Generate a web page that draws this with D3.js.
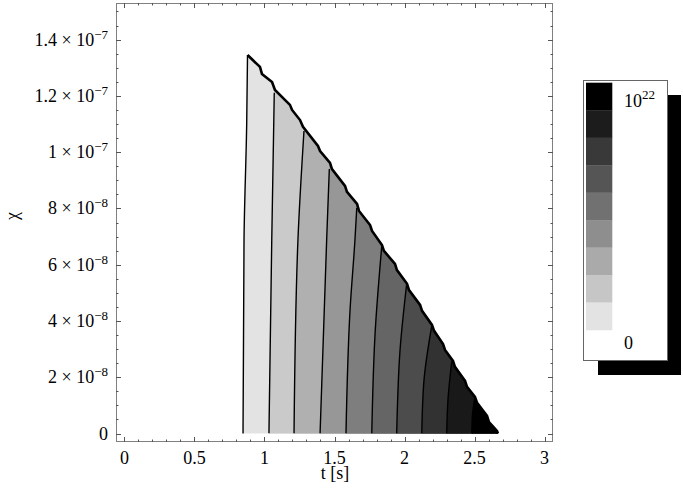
<!DOCTYPE html>
<html><head><meta charset="utf-8">
<script src="https://cdn.jsdelivr.net/npm/d3@7"></script>
<style>body{margin:0;background:#fff}</style>
</head><body><svg id="c" width="683" height="491" font-family="'Liberation Serif', 'DejaVu Serif', 'Times New Roman', serif"></svg>
<script>
// ---------- data ----------
const tTicks = [0, 0.5, 1, 1.5, 2, 2.5, 3];
const tTickLabels = ["0", "0.5", "1", "1.5", "2", "2.5", "3"];
const chiTicks = [0, 2, 4, 6, 8, 10, 12, 14];            // units of 1e-8
const chiMantissa = ["0", "2", "4", "6", "8", "1", "1.2", "1.4"];
const chiExponent = ["", "\u22128", "\u22128", "\u22128", "\u22128", "\u22127", "\u22127", "\u22127"];
const bandGrays = [227, 202, 176, 151, 126, 101, 76, 50, 25, 0];
const legendGrays = [0, 28, 57, 85, 113, 142, 170, 198, 227];
const legendTop = ["10", "22"];
const legendBottom = "0";
// contour lines [t (s), chi (1e-8)], from chi = 0 upward to the domain edge
const contourLines = [
  [[0.847, 0], [0.854, 6.88], [0.873, 10.97], [0.879, 13.45]],
  [[1.032, 0], [1.052, 6.88], [1.070, 12.11]],
  [[1.211, 0], [1.239, 6.88], [1.282, 10.75]],
  [[1.397, 0], [1.444, 6.88], [1.463, 9.40]],
  [[1.582, 0], [1.611, 4.39], [1.646, 6.88], [1.659, 8.02]],
  [[1.766, 0], [1.790, 3.58], [1.837, 6.64]],
  [[1.944, 0], [1.968, 2.97], [2.016, 5.35]],
  [[2.123, 0], [2.139, 1.90], [2.194, 3.82]],
  [[2.301, 0], [2.310, 1.19], [2.337, 2.56]],
  [[2.480, 0], [2.485, 0.66], [2.503, 1.31]]
];
// upper edge of the domain (jagged), from the top corner down to chi = 0
const boundaryTop = [
  [0.879, 13.45], [0.968, 13.03], [0.982, 12.78], [1.054, 12.49], [1.075, 12.21],
  [1.182, 11.68], [1.197, 11.50], [1.254, 11.14], [1.275, 10.90], [1.382, 10.22],
  [1.397, 10.04], [1.468, 9.62], [1.482, 9.40], [1.575, 8.80], [1.589, 8.59],
  [1.661, 8.16], [1.675, 7.91], [1.754, 7.41], [1.768, 7.20], [1.839, 6.70],
  [1.853, 6.49], [1.932, 6.03], [1.946, 5.81], [2.018, 5.32], [2.032, 5.10],
  [2.111, 4.57], [2.125, 4.36], [2.196, 3.86], [2.211, 3.65], [2.275, 3.18],
  [2.289, 2.97], [2.346, 2.58], [2.360, 2.37], [2.432, 1.87], [2.446, 1.66],
  [2.503, 1.30], [2.518, 1.09], [2.589, 0.63], [2.603, 0.41], [2.660, 0.09],
  [2.667, 0]
];

// ---------- drawing ----------
const svg = d3.select("#c");
const L = 116, R = 553, T = 3, B = 442;
const x = d3.scaleLinear([-0.06, 3.06], [L, R]);
const y = d3.scaleLinear([-0.3, 15.3], [B, T]);

const lineGen = d3.line().x(d => x(d[0])).y(d => y(d[1])).curve(d3.curveMonotoneY);
const linGen = d3.line().x(d => x(d[0])).y(d => y(d[1]));

// region polygon
const leftEdge = contourLines[0];
const regionPath = lineGen(leftEdge) + linGen(boundaryTop).replace(/^M/, "L") + "Z";
svg.append("clipPath").attr("id", "reg").append("path").attr("d", regionPath);

const gBands = svg.append("g").attr("clip-path", "url(#reg)");
contourLines.forEach((pts, i) => {
  const top = pts[pts.length - 1];
  const d = lineGen(pts) +
    "L" + x(top[0] + 0.02) + "," + y(16) +
    "L" + x(3.5) + "," + y(16) +
    "L" + x(3.5) + "," + y(-1) +
    "L" + x(pts[0][0]) + "," + y(-1) + "Z";
  const g = bandGrays[i];
  gBands.append("path").attr("d", d).attr("fill", `rgb(${g},${g},${g})`);
});
const gLines = svg.append("g").attr("clip-path", "url(#reg)");
contourLines.forEach((pts, i) => {
  if (i === 0) return;
  gLines.append("path").attr("d", lineGen(pts)).attr("fill", "none")
    .attr("stroke", "#000").attr("stroke-width", 1.4);
});
svg.append("path").attr("d", lineGen(leftEdge)).attr("fill", "none")
  .attr("stroke", "#000").attr("stroke-width", 1.4);
svg.append("path").attr("d", linGen(boundaryTop)).attr("fill", "none")
  .attr("stroke", "#000").attr("stroke-width", 2.6).attr("stroke-linejoin", "miter");

// frame
svg.append("rect").attr("x", L + 0.5).attr("y", T + 0.5).attr("width", R - L - 1).attr("height", B - T - 1)
  .attr("fill", "none").attr("stroke", "#808080").attr("stroke-width", 1);

const tickCol = "#555";
const gt = svg.append("g").attr("stroke", tickCol).attr("stroke-width", 1);
const tMinor = d3.range(0, 3.0001, 0.1).map(v => +v.toFixed(2));
tMinor.forEach(v => {
  const major = tTicks.some(m => Math.abs(m - v) < 1e-6);
  const len = major ? 5 : 2.5;
  const xx = Math.round(x(v)) + 0.5;
  gt.append("line").attr("x1", xx).attr("x2", xx).attr("y1", B).attr("y2", B - len);
  gt.append("line").attr("x1", xx).attr("x2", xx).attr("y1", T).attr("y2", T + len);
});
const cMinor = d3.range(0, 15.0001, 0.5).map(v => +v.toFixed(2));
cMinor.forEach(v => {
  const major = chiTicks.some(m => Math.abs(m - v) < 1e-6);
  const len = major ? 5 : 2.5;
  const yy = Math.round(y(v)) + 0.5;
  gt.append("line").attr("y1", yy).attr("y2", yy).attr("x1", L).attr("x2", L + len);
  gt.append("line").attr("y1", yy).attr("y2", yy).attr("x1", R).attr("x2", R - len);
});

// tick labels
const fs = 18;
tTicks.forEach((v, i) => {
  svg.append("text").attr("x", x(v)).attr("y", 464).attr("text-anchor", "middle")
    .attr("font-size", fs).attr("fill", "#000").text(tTickLabels[i]);
});
chiTicks.forEach((v, i) => {
  const t = svg.append("text").attr("x", 108).attr("y", y(v) + 6).attr("text-anchor", "end")
    .attr("font-size", fs).attr("fill", "#000");
  if (chiExponent[i] === "") { t.text(chiMantissa[i]); return; }
  t.append("tspan").text(chiMantissa[i] + " \u00d7 10");
  t.append("tspan").attr("dy", -7).attr("font-size", 13).text(chiExponent[i]);
});

// axis labels
svg.append("text").attr("x", 335).attr("y", 479).attr("text-anchor", "middle")
  .attr("font-size", fs).text("t [s]");
svg.append("text").attr("transform", "translate(18,216) rotate(-90)").attr("text-anchor", "middle")
  .attr("font-size", fs).text("\u03c7");

// legend
svg.append("rect").attr("x", 598).attr("y", 95).attr("width", 83).attr("height", 280).attr("fill", "#000");
svg.append("rect").attr("x", 583.5).attr("y", 80.5).attr("width", 84).attr("height", 280)
  .attr("fill", "#fff").attr("stroke", "#666").attr("stroke-width", 1);
const swH = (330 - 82.7) / legendGrays.length;
legendGrays.forEach((g, i) => {
  svg.append("rect").attr("x", 586).attr("y", 82.7 + i * swH).attr("width", 26.3).attr("height", swH + 0.3)
    .attr("fill", `rgb(${g},${g},${g})`);
});
const lt = svg.append("text").attr("x", 624).attr("y", 107).attr("font-size", fs);
lt.append("tspan").text(legendTop[0]);
lt.append("tspan").attr("dy", -8).attr("font-size", 13).text(legendTop[1]);
svg.append("text").attr("x", 624).attr("y", 349).attr("font-size", fs).text(legendBottom);
</script></body></html>
